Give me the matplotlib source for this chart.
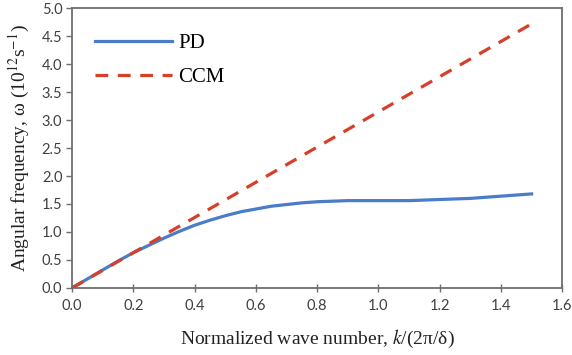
import matplotlib.pyplot as plt

plt.rcParams['mathtext.fontset'] = 'stix'

# normalized wave number and angular frequency (10^12 1/s)
k_pd = [0.0, 0.05, 0.1, 0.15, 0.2, 0.25, 0.3, 0.35, 0.4, 0.45, 0.5, 0.55, 0.6, 0.65,
        0.7, 0.75, 0.8, 0.85, 0.9, 0.95, 1.0, 1.05, 1.1, 1.15, 1.2, 1.25, 1.3, 1.35,
        1.4, 1.45, 1.5]
w_pd = [0.0, 0.16, 0.32, 0.48, 0.63, 0.76, 0.89, 1.01, 1.12, 1.21, 1.29, 1.36, 1.41, 1.46,
        1.49, 1.52, 1.54, 1.55, 1.56, 1.56, 1.56, 1.56, 1.56, 1.57, 1.58, 1.59, 1.60, 1.62,
        1.64, 1.66, 1.68]

k_ccm = [0.0, 1.5]
w_ccm = [0.0, 4.72]

fig = plt.figure(figsize=(5.72, 3.55), dpi=100)
ax = fig.add_axes([0.126, 0.189, 0.857, 0.788])

ax.plot(k_pd, w_pd, color='#4a7cc9', lw=2.3, label='PD')
ax.plot(k_ccm, w_ccm, color='#d6402a', lw=2.3, ls=(0, (4, 3)), label='CCM')

ax.set_xlim(0, 1.6)
ax.set_ylim(0, 5.0)
ax.set_xticks([0.0, 0.2, 0.4, 0.6, 0.8, 1.0, 1.2, 1.4, 1.6])
ax.set_yticks([0.0, 0.5, 1.0, 1.5, 2.0, 2.5, 3.0, 3.5, 4.0, 4.5, 5.0])
ax.xaxis.set_major_formatter(plt.FormatStrFormatter('%.1f'))
ax.yaxis.set_major_formatter(plt.FormatStrFormatter('%.1f'))

for s in ax.spines.values():
    s.set_color('#6e6e6e')
    s.set_linewidth(1.3)

ax.tick_params(axis='x', direction='inout', length=6, width=1, color='#6e6e6e',
               labelsize=10.5, labelcolor='#404040', pad=5)
ax.tick_params(axis='y', direction='out', length=4, width=1, color='#6e6e6e',
               labelsize=10.5, labelcolor='#404040', pad=3)
for lab in ax.get_xticklabels() + ax.get_yticklabels():
    lab.set_family('Lato')

ax.set_xlabel(r'Normalized wave number, $k$/(2π/δ)', family='Liberation Serif',
              fontsize=14, color='#222222', labelpad=11)
ax.set_ylabel(r'Angular frequency, ω (10$^{12}$s$^{-1}$)', family='Liberation Serif',
              fontsize=14, color='#222222', labelpad=7)

leg = ax.legend(loc='upper left', frameon=False, handlelength=3.7, handletextpad=0.3,
                prop={'family': 'Liberation Serif', 'size': 15},
                labelspacing=0.7, borderaxespad=0.0, bbox_to_anchor=(0.03, 0.94))

fig.savefig('out.png', dpi=100)
